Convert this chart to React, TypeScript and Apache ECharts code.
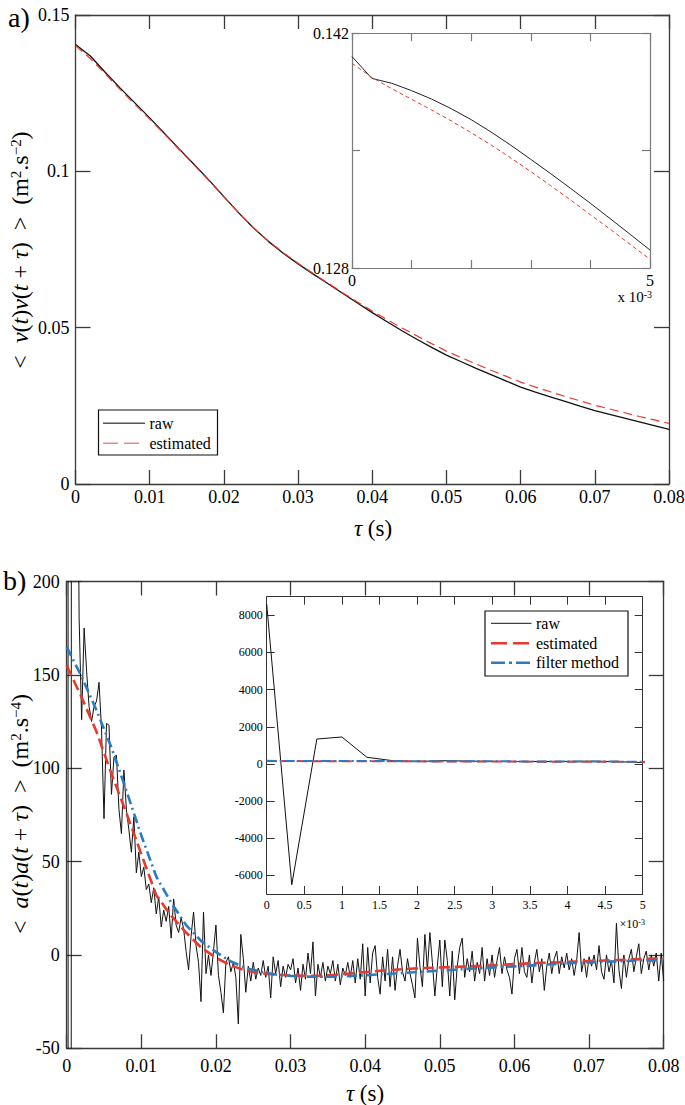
import React, { useEffect, useRef } from "react";
import * as echarts from "echarts";

// ---------------- data ----------------
// panel a: velocity autocorrelation, tau step 0.002 s
const A_TAU_STEP = 0.002;
const A_RAW = [
  0.1406, 0.1369, 0.1317, 0.1267, 0.1219, 0.1171, 0.1121, 0.1071, 0.1022, 0.0972,
  0.0919, 0.0867, 0.0819, 0.0776, 0.0738, 0.0704, 0.0672, 0.0641, 0.061, 0.0579,
  0.0548, 0.0519, 0.049, 0.0463, 0.0437, 0.0412, 0.0391, 0.037, 0.035, 0.033,
  0.031, 0.0294, 0.0279, 0.0264, 0.0249, 0.0235, 0.0223, 0.0211, 0.0199, 0.0187,
  0.0175,
];
const A_EST = [
  0.1402, 0.1361, 0.1312, 0.1262, 0.1215, 0.1167, 0.1119, 0.1069, 0.102, 0.097,
  0.0918, 0.0867, 0.0819, 0.0777, 0.074, 0.0706, 0.0674, 0.0643, 0.0612, 0.0582,
  0.0553, 0.0526, 0.0499, 0.0474, 0.0449, 0.0425, 0.0404, 0.0384, 0.0364, 0.0345,
  0.0326, 0.031, 0.0295, 0.028, 0.0266, 0.0252, 0.024, 0.0228, 0.0216, 0.0205,
  0.0194,
];
// panel a inset: first 5 ms, sample step 1/3 ms
const A_INSET_STEP_MS = 1 / 3;
const A_INSET_RAW = [
  0.14061, 0.13931, 0.13902, 0.13858, 0.13808, 0.1375, 0.13685, 0.13611, 0.13532, 0.13448,
  0.13363, 0.13275, 0.13186, 0.13094, 0.13001, 0.12907,
];
const A_INSET_EST = [
  0.14021, 0.13937, 0.1387, 0.13806, 0.13743, 0.13677, 0.13607, 0.13534, 0.13456, 0.13375,
  0.13291, 0.13206, 0.13118, 0.13031, 0.12941, 0.12852,
];
const A_INSET_Y_TICKS = [0.128, 0.135, 0.142];
const A_INSET_Y_LABELS = [0.128, 0.142];
const A_INSET_X_LABELS = [0, 5];

// panel b: acceleration autocorrelation, raw sampled every 1/3000 s
const B_RAW_STEP = 1 / 3000;
const B_RAW = [
  8600, -6500, 1340, 1450, 357, 180, 126, 175, 152, 133,
  125, 133, 136, 146, 121, 73, 124, 123, 86, 106,
  107, 78, 65, 99, 78, 67, 55, 74, 44, 55,
  42, 47, 35, 38, 28, 36, 22, 31, 15, 24,
  18, 26, 9, 30, 16, 12, 20, 14, 2, -8,
  10, 23, 5, -4, -25, 23, -10, 0, -11, 2,
  16, -11, -20, -31, -4, -1, -9, -4, -12, -37,
  11, -2, -20, -6, -14, -4, -13, -7, -11, -3,
  -12, -6, -23, -1, -10, -3, -17, -6, -12, -5,
  -8, -2, -15, -7, -19, -5, -13, 1, -10, 7,
  -22, -5, -12, -4, -14, -6, -10, -3, -14, -5,
  -16, -7, -11, -4, -12, -3, -15, -2, -13, 6,
  -22, 4, -15, 1, 5, -12, -21, -1, -14, 3,
  -17, -1, -19, -6, 3, -9, -14, -2, -10, -16,
  -23, 9, -6, -17, 11, -8, 12, -4, -22, -6,
  8, -17, 8, -3, -22, 2, -24, -6, 4, 9,
  -12, -2, -9, 2, -14, -4, -10, 4, -14, -2,
  -11, 0, -12, -3, 4, -10, -1, -8, -12, -21,
  -2, 3, -10, 4, -9, -12, 0, -15, -4, 3,
  -9, -2, -19, -6, 1, -10, -2, 2, -10, -1,
  -7, 1, -8, -2, -11, -3, 12, -9, -2, -12,
  -1, -6, 0, -8, 5, -9, -13, 0, -9, -3,
  -15, 17, -8, -18, 0, -12, -2, 3, -9, -1,
  6, -10, -2, 2, -8, 0, -6, 1, -14, 1,
  -14,
];
const B_TAU_STEP = 0.002;
const B_EST = [
  155, 138, 119.5, 97, 76, 54, 32, 21, 12, 4,
  -1.5, -5.6, -8.5, -9.8, -10.5, -11, -11.2, -11.1, -10.6, -9.9,
  -9.2, -8.5, -7.9, -7.4, -7.0, -6.7, -6.4, -6.1, -5.7, -5.3,
  -4.9, -4.5, -4.2, -3.9, -3.6, -3.3, -3.0, -2.7, -2.4, -2.1,
  -1.8,
];
const B_FILTER = [
  165, 149, 131, 111, 88, 64, 42, 28, 16, 7.5,
  1.5, -3.5, -7, -9, -10.5, -11.2, -11.6, -11.7, -11.6, -11.3,
  -10.9, -10.4, -9.9, -9.4, -8.9, -8.4, -7.9, -7.4, -7.0, -6.5,
  -6.1, -5.7, -5.2, -4.8, -4.3, -4.0, -3.7, -3.4, -3.1, -2.9,
  -2.7,
];
const B_INSET_Y_TICKS = [-6000, -4000, -2000, 0, 2000, 4000, 6000, 8000];

// ---------------- helpers ----------------
const FONT = "Liberation Serif";
const RED = "#e8392c";
const BLUE = "#2a7bc1";

const pairs = (vals: number[], step: number, scale = 1) =>
  vals.map((v, i) => [i * step * scale, v]);

const fmt = (v: number) => String(parseFloat(Number(v).toFixed(6)));

type AxOpt = {
  grid: number;
  min: number;
  max: number;
  interval?: number;
  ticks?: number[];
  labels?: number[];
  color: string;
  lw: number;
  tick: number;
  fs: number;
  margin: number;
  z: number;
};

function boxAxes(dir: "x" | "y", o: AxOpt) {
  const common: any = {
    type: "value",
    gridIndex: o.grid,
    min: o.min,
    max: o.max,
    z: o.z,
    splitLine: { show: false },
    axisLine: { show: true, onZero: false, lineStyle: { color: o.color, width: o.lw } },
    axisTick: {
      show: true,
      inside: true,
      length: o.tick,
      lineStyle: { color: o.color, width: o.lw },
    },
  };
  if (o.interval != null) common.interval = o.interval;
  if (o.ticks) common.axisTick.customValues = o.ticks;
  const label: any = {
    show: true,
    color: "#000",
    fontFamily: FONT,
    fontSize: o.fs,
    margin: o.margin,
    showMinLabel: true,
    showMaxLabel: true,
    hideOverlap: false,
    formatter: fmt,
  };
  if (o.labels) label.customValues = o.labels;
  const main = { ...common, position: dir === "x" ? "bottom" : "left", axisLabel: label };
  const mirror = { ...common, position: dir === "x" ? "top" : "right", axisLabel: { show: false } };
  return [main, mirror];
}

function lineSeries(name: string, data: number[][], xi: number, yi: number, style: any, z: number) {
  return {
    name,
    type: "line",
    xAxisIndex: xi,
    yAxisIndex: yi,
    data,
    symbol: "none",
    showSymbol: false,
    clip: true,
    silent: true,
    z,
    lineStyle: style,
    emphasis: { disabled: true },
  };
}

const txt = (x: number, y: number, text: string, fontSize: number, extra: any = {}) => ({
  type: "text",
  x,
  y,
  z: 30,
  silent: true,
  style: {
    text,
    fill: "#000",
    fontFamily: FONT,
    fontSize,
    align: "left",
    verticalAlign: "middle",
    ...extra,
  },
});

const gline = (x1: number, y1: number, x2: number, y2: number, style: any) => ({
  type: "line",
  z: 30,
  silent: true,
  shape: { x1, y1, x2, y2 },
  style,
});

export default function App() {
  const ref = useRef<HTMLDivElement>(null);
  useEffect(() => {
    document.body.style.margin = "0";
    const chart = echarts.init(ref.current!, null, { renderer: "svg" });

    const axA = { color: "#3a3a3a", lw: 1.3, z: 1 };
    const axAi = { color: "#7a7a7a", lw: 1.2, z: 6 };
    const axB = { color: "#3a3a3a", lw: 1.3, z: 1 };
    const axBi = { color: "#333", lw: 1, z: 6 };

    const xAxes = [
      ...boxAxes("x", { grid: 0, min: 0, max: 0.08, interval: 0.01, tick: 14, fs: 18, margin: 4, ...axA }),
      ...boxAxes("x", { grid: 1, min: 0, max: 5, interval: 1, labels: A_INSET_X_LABELS, tick: 8, fs: 16, margin: 4, ...axAi }),
      ...boxAxes("x", { grid: 2, min: 0, max: 0.08, interval: 0.01, tick: 14, fs: 18, margin: 9, ...axB }),
      ...boxAxes("x", { grid: 3, min: 0, max: 5, interval: 0.5, tick: 8, fs: 12, margin: 5, ...axBi }),
    ];
    const yAxes = [
      ...boxAxes("y", { grid: 0, min: 0, max: 0.15, interval: 0.05, tick: 15, fs: 18, margin: 6, ...axA }),
      ...boxAxes("y", { grid: 1, min: 0.128, max: 0.142, ticks: A_INSET_Y_TICKS, labels: A_INSET_Y_LABELS, tick: 8, fs: 16, margin: 3, ...axAi }),
      ...boxAxes("y", { grid: 2, min: -50, max: 200, interval: 50, tick: 15, fs: 18, margin: 7, ...axB }),
      ...boxAxes("y", { grid: 3, min: -7000, max: 9000, ticks: B_INSET_Y_TICKS, labels: B_INSET_Y_TICKS, tick: 8, fs: 12, margin: 4, ...axBi }),
    ];

    const gridBase = { containLabel: false, outerBoundsMode: "none" };
    const series = [
      // panel a main
      lineSeries("raw", pairs(A_RAW, A_TAU_STEP), 0, 0, { color: "#111", width: 1.3, type: "solid" }, 3),
      lineSeries("estimated", pairs(A_EST, A_TAU_STEP), 0, 0, { color: RED, width: 1.2, type: [9, 5] }, 4),
      // panel a inset
      lineSeries("raw-a-inset", pairs(A_INSET_RAW, A_INSET_STEP_MS), 2, 2, { color: "#222", width: 1, type: "solid" }, 7),
      lineSeries("est-a-inset", pairs(A_INSET_EST, A_INSET_STEP_MS), 2, 2, { color: RED, width: 1, type: [4, 3] }, 8),
      // panel b main
      lineSeries("raw-b", pairs(B_RAW, B_RAW_STEP), 4, 4, { color: "#111", width: 1, type: "solid" }, 2),
      lineSeries("estimated-b", pairs(B_EST, B_TAU_STEP), 4, 4, { color: RED, width: 2.6, type: [11, 5] }, 3),
      lineSeries("filter method", pairs(B_FILTER, B_TAU_STEP), 4, 4, { color: BLUE, width: 2.6, type: [10, 4, 2, 4] }, 4),
      // panel b inset (ms)
      lineSeries("raw-b-inset", pairs(B_RAW.slice(0, 18), B_RAW_STEP, 1000), 6, 6, { color: "#111", width: 1, type: "solid" }, 7),
      lineSeries("est-b-inset", pairs(B_EST.slice(0, 4), B_TAU_STEP, 1000), 6, 6, { color: RED, width: 2, type: [10, 5] }, 8),
      lineSeries("filter-b-inset", pairs(B_FILTER.slice(0, 4), B_TAU_STEP, 1000), 6, 6, { color: BLUE, width: 2, type: [10, 3, 2, 3] }, 9),
    ];

    const richBase = (fs: number) => ({
      n: { fontFamily: FONT, fontSize: fs, fill: "#000" },
      i: { fontFamily: FONT, fontSize: fs, fontStyle: "italic", fill: "#000" },
      s: { fontFamily: FONT, fontSize: Math.round(fs * 0.62), verticalAlign: "top", fill: "#000" },
    });

    const graphic = [
      txt(8, 17, "a)", 28),
      txt(3, 580, "b)", 28),
      // y-axis titles (rotated)
      {
        type: "text",
        x: 20,
        y: 250,
        rotation: Math.PI / 2,
        z: 30,
        silent: true,
        style: {
          text: "{n|<  }{i|v}{n|(}{i|t}{n|)}{i|v}{n|(}{i|t}{n| + }{i|τ}{n|)  >  (m}{s|2}{n|.s}{s|−2}{n|)}",
          rich: richBase(24),
          fontFamily: FONT,
          fontSize: 24,
          align: "center",
          verticalAlign: "middle",
        },
      },
      {
        type: "text",
        x: 20,
        y: 814,
        rotation: Math.PI / 2,
        z: 30,
        silent: true,
        style: {
          text: "{n|<  }{i|a}{n|(}{i|t}{n|)}{i|a}{n|(}{i|t}{n| + }{i|τ}{n|)  >  (m}{s|2}{n|.s}{s|−4}{n|)}",
          rich: richBase(24),
          fontFamily: FONT,
          fontSize: 24,
          align: "center",
          verticalAlign: "middle",
        },
      },
      // x-axis titles
      {
        type: "text",
        x: 373,
        y: 528,
        z: 30,
        silent: true,
        style: {
          text: "{i|τ}{n| (s)}",
          rich: richBase(23),
          fontFamily: FONT,
          fontSize: 23,
          align: "center",
          verticalAlign: "middle",
        },
      },
      {
        type: "text",
        x: 365,
        y: 1093,
        z: 30,
        silent: true,
        style: {
          text: "{i|τ}{n| (s)}",
          rich: richBase(23),
          fontFamily: FONT,
          fontSize: 23,
          align: "center",
          verticalAlign: "middle",
        },
      },
      // inset exponents
      {
        type: "text",
        x: 652,
        y: 297,
        z: 30,
        silent: true,
        style: {
          text: "{n|x 10}{s|-3}",
          rich: {
            n: { fontFamily: FONT, fontSize: 15, fill: "#000" },
            s: { fontFamily: FONT, fontSize: 10, verticalAlign: "top", fill: "#000" },
          },
          fontFamily: FONT,
          fontSize: 15,
          align: "right",
          verticalAlign: "middle",
        },
      },
      {
        type: "text",
        x: 645,
        y: 924,
        z: 30,
        silent: true,
        style: {
          text: "{n|×10}{s|-3}",
          rich: {
            n: { fontFamily: FONT, fontSize: 12, fill: "#000" },
            s: { fontFamily: FONT, fontSize: 8, verticalAlign: "top", fill: "#000" },
          },
          fontFamily: FONT,
          fontSize: 12,
          align: "right",
          verticalAlign: "middle",
        },
      },
      // legend a
      {
        type: "rect",
        z: 29,
        silent: true,
        shape: { x: 98.5, y: 410, width: 119, height: 45 },
        style: { fill: "#fff", stroke: "#111", lineWidth: 1.2 },
      },
      gline(103, 423.3, 145, 423.3, { stroke: "#555", lineWidth: 1.6 }),
      txt(149.5, 423.3, "raw", 16),
      gline(103, 443.3, 145, 443.3, { stroke: "#ea8a83", lineWidth: 1.6, lineDash: [15, 6] }),
      txt(149.5, 443.3, "estimated", 16),
      // legend b
      {
        type: "rect",
        z: 29,
        silent: true,
        shape: { x: 485, y: 611, width: 143, height: 65 },
        style: { fill: "#fff", stroke: "#111", lineWidth: 1.2 },
      },
      gline(491, 623.3, 531.5, 623.3, { stroke: "#111", lineWidth: 1 }),
      txt(536, 623.3, "raw", 16),
      gline(491, 643.3, 531.5, 643.3, { stroke: RED, lineWidth: 2.5, lineDash: [16, 6] }),
      txt(536, 643.3, "estimated", 16),
      gline(491, 662.7, 531.5, 662.7, { stroke: BLUE, lineWidth: 2.5, lineDash: [14, 4, 3, 4] }),
      txt(536, 662.7, "filter method", 16),
    ];

    chart.setOption({
      animation: false,
      backgroundColor: "#fff",
      textStyle: { fontFamily: FONT },
      grid: [
        { ...gridBase, left: 75.5, top: 15, width: 593.5, height: 469 },
        { ...gridBase, left: 352, top: 33.3, width: 298, height: 234.7, show: true, backgroundColor: "#fff", borderWidth: 0, z: 5 },
        { ...gridBase, left: 66.7, top: 581.5, width: 597, height: 466.8 },
        { ...gridBase, left: 266.7, top: 596.7, width: 376, height: 297.3, show: true, backgroundColor: "#fff", borderWidth: 0, z: 5 },
      ],
      xAxis: xAxes,
      yAxis: yAxes,
      series,
      graphic,
    });
    return () => chart.dispose();
  }, []);
  return (
    <div
      ref={ref}
      style={{ position: "absolute", left: 0, top: 0, width: 685, height: 1105, background: "#fff" }}
    />
  );
}
